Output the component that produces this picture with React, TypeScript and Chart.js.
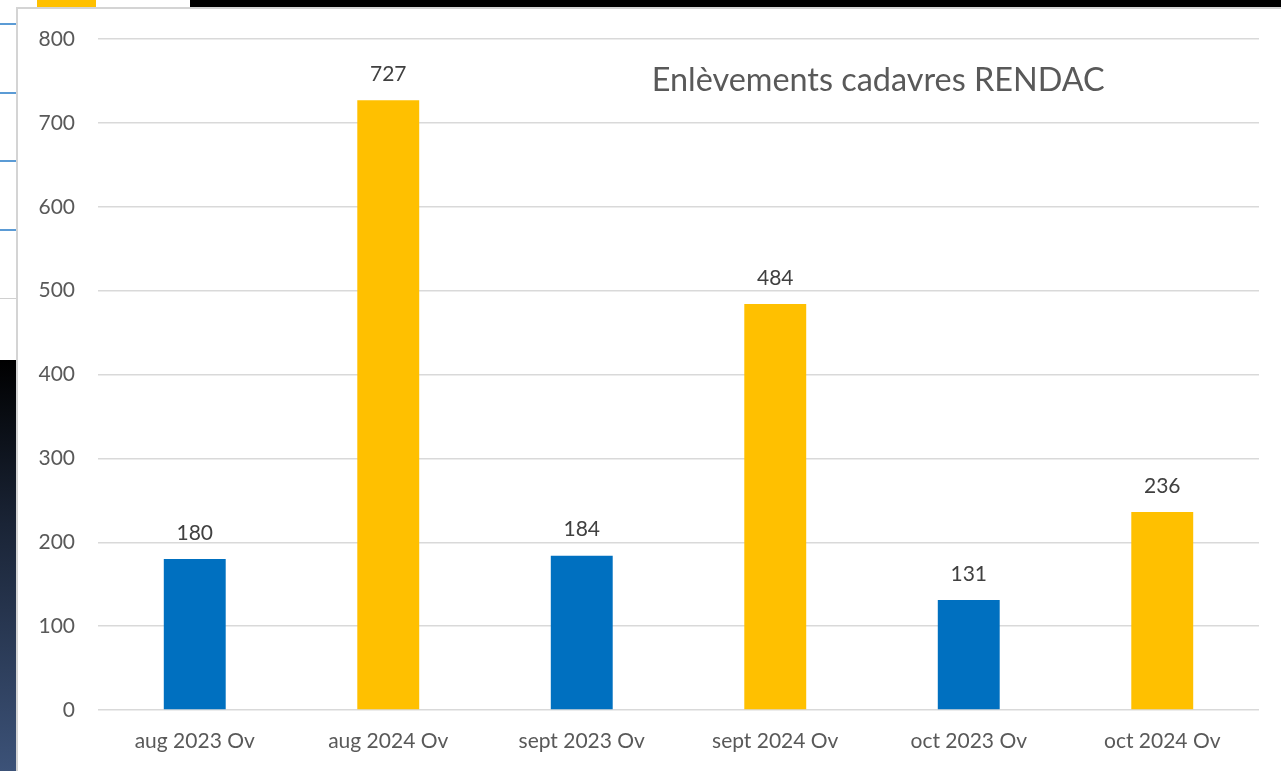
import React, { useEffect, useRef } from "react";
import { Chart, registerables } from "chart.js";

Chart.register(...registerables);

const categories = ["aug 2023 Ov", "aug 2024 Ov", "sept 2023 Ov", "sept 2024 Ov", "oct 2023 Ov", "oct 2024 Ov"];
const values = [180, 727, 184, 484, 131, 236];
const barColors = ["#0070C0", "#FFC000", "#0070C0", "#FFC000", "#0070C0", "#FFC000"];
const yTicks = [0, 100, 200, 300, 400, 500, 600, 700, 800];
const chartTitle = "Enlèvements cadavres RENDAC";

const FONT = "Lato, 'Open Sans', sans-serif";

const valueLabels = {
  id: "valueLabels",
  afterDatasetsDraw(chart: any) {
    const ctx = chart.ctx;
    const meta = chart.getDatasetMeta(0);
    ctx.save();
    ctx.font = `21px ${FONT}`;
    ctx.fillStyle = "#404040";
    ctx.textAlign = "center";
    ctx.textBaseline = "middle";
    meta.data.forEach((bar: any, i: number) => {
      ctx.fillText(String(values[i]), bar.x, bar.y - 26);
    });
    ctx.restore();
  },
};

const innerTitle = {
  id: "innerTitle",
  afterDraw(chart: any) {
    const { ctx, chartArea } = chart;
    ctx.save();
    ctx.font = `32.4px ${FONT}`;
    ctx.fillStyle = "#595959";
    ctx.textAlign = "center";
    ctx.textBaseline = "middle";
    const x = chartArea.left + (chartArea.right - chartArea.left) * 0.672;
    ctx.fillText(chartTitle, x, chartArea.top + 42);
    ctx.restore();
  },
};

export default function App() {
  const ref = useRef<HTMLCanvasElement | null>(null);
  useEffect(() => {
    if (!ref.current) return;
    const chart = new Chart(ref.current, {
      type: "bar",
      data: {
        labels: categories,
        datasets: [
          {
            data: values,
            backgroundColor: barColors,
            barPercentage: 0.32,
            categoryPercentage: 1,
          },
        ],
      },
      options: {
        animation: false,
        responsive: true,
        maintainAspectRatio: false,
        layout: { padding: { top: 30, right: 22, left: 0, bottom: 0 } },
        plugins: {
          legend: { display: false },
          tooltip: { enabled: false },
          title: { display: false },
        },
        scales: {
          x: {
            grid: { display: false, drawTicks: false },
            border: { display: false },
            ticks: {
              color: "#595959",
              font: { family: FONT, size: 21 },
              padding: 19,
              maxRotation: 0,
            },
            afterFit(scale: any) {
              scale.height = 61;
              scale.paddingLeft = 0;
              scale.paddingRight = 0;
            },
          },
          y: {
            min: 0,
            max: 800,
            afterBuildTicks(scale: any) {
              scale.ticks = yTicks.map((v) => ({ value: v }));
            },
            grid: { color: "#d9d9d9", lineWidth: 1.5, drawTicks: false },
            border: { display: false },
            ticks: {
              color: "#595959",
              font: { family: FONT, size: 21 },
              padding: 23,
            },
            afterFit(scale: any) {
              scale.width = 80;
              scale.paddingTop = 0;
              scale.paddingBottom = 0;
            },
          },
        },
      },
      plugins: [valueLabels, innerTitle],
    });
    return () => chart.destroy();
  }, []);

  return (
    <div style={{ position: "fixed", inset: 0, background: "#000", overflow: "hidden" }}>
      <div
        style={{
          position: "absolute",
          left: 0,
          top: 360,
          width: 40,
          bottom: 0,
          background: "linear-gradient(#000 0%, #1a2436 40%, #3c5278 100%)",
        }}
      />
      <div style={{ position: "absolute", left: 0, top: 0, width: 190, height: 360, background: "#fff" }}>
        <div style={{ position: "absolute", left: 37, top: 0, width: 59, height: 8, background: "#FFC000" }} />
        {[23, 92, 160, 229].map((t) => (
          <div key={t} style={{ position: "absolute", left: 0, top: t, width: 17, height: 2, background: "#5b9bd5" }} />
        ))}
        <div style={{ position: "absolute", left: 0, top: 298, width: 17, height: 1, background: "#d0d0d0" }} />
      </div>
      <div
        style={{
          position: "absolute",
          left: 16,
          top: 7,
          right: 0,
          bottom: 0,
          background: "#fff",
          borderLeft: "2px solid #d4d4d4",
          borderTop: "2px solid #d4d4d4",
        }}
      >
        <canvas ref={ref} />
      </div>
    </div>
  );
}
